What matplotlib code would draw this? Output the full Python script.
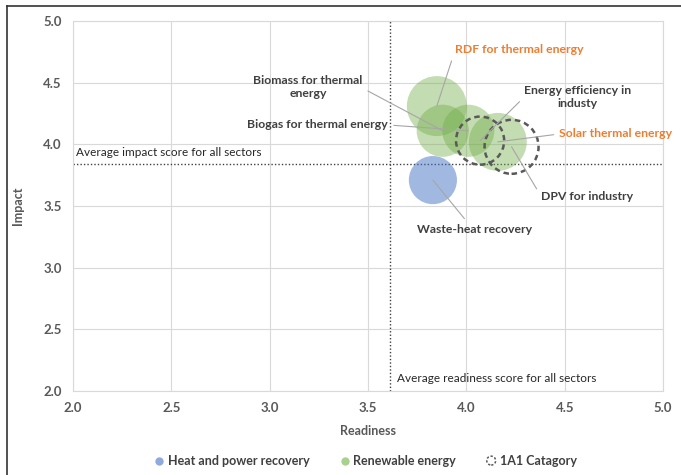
import matplotlib
matplotlib.use("Agg")
import matplotlib.pyplot as plt
from matplotlib.lines import Line2D
from matplotlib.patches import Circle
from matplotlib.legend_handler import HandlerPatch

plt.rcParams['font.family'] = ['Lato', 'DejaVu Sans']

# Bubble data: readiness (x), impact (y), bubble size, group
names = ["RDF for thermal energy", "Biomass for thermal\nenergy", "Biogas for thermal energy",
         "Solar thermal energy", "Energy efficiency in\nindusty", "DPV for industry",
         "Waste-heat recovery"]
readiness = [3.85, 3.88, 4.01, 4.16, 4.07, 4.23, 3.83]
impact = [4.31, 4.11, 4.11, 4.02, 4.03, 3.98, 3.71]
bubble_size = [9.0, 6.8, 6.8, 8.4, 5.8, 7.3, 5.8]
group = ["re", "re", "re", "re", "1a1", "1a1", "hp"]

avg_readiness = 3.61
avg_impact = 3.84

x_ticks = [2.0, 2.5, 3.0, 3.5, 4.0, 4.5, 5.0]
y_ticks = [2.0, 2.5, 3.0, 3.5, 4.0, 4.5, 5.0]

# label positions (data coords), text colour, leader anchor on the text box
label_pos = [(4.27, 4.765), (3.195, 4.465), (3.245, 4.157), (4.76, 4.084),
             (4.567, 4.384), (4.613, 3.573), (4.04, 3.313)]
label_color = ["#ED7D31", "#404040", "#404040", "#ED7D31", "#404040", "#404040", "#404040"]
label_rel = [(0, 0.5), (1, 0.45), (1, 0.5), (0, 0.5), (0, 0.5), (0, 0.6), (0.45, 1)]

GREEN = "#70AD47"
BLUE = "#4472C4"
TXT = "#595959"

fig = plt.figure(figsize=(6.81, 4.75), dpi=100)
ax = fig.add_axes([73/681, 84/475, 590/681, 370/475])

ax.set_xlim(2.0, 5.0)
ax.set_ylim(2.0, 5.0)
ax.set_xticks(x_ticks)
ax.set_yticks(y_ticks)
ax.set_xticklabels([f"{v:.1f}" for v in x_ticks])
ax.set_yticklabels([f"{v:.1f}" for v in y_ticks])
ax.grid(True, color="#D9D9D9", lw=0.8)
ax.set_axisbelow(True)
for s in ax.spines.values():
    s.set_color("#D9D9D9")
    s.set_linewidth(0.8)
ax.tick_params(length=0, labelsize=9.5, colors=TXT, pad=8)
for lbl in ax.get_xticklabels() + ax.get_yticklabels():
    lbl.set_fontweight("bold")
ax.set_xlabel("Readiness", fontsize=9, color=TXT, labelpad=8, fontweight="bold")
ax.set_ylabel("Impact", fontsize=9, color=TXT, labelpad=14, fontweight="bold")

scale = 207.0
for x, y, sz, g in zip(readiness, impact, bubble_size, group):
    s = sz * scale
    if g == "re":
        ax.scatter(x, y, s=s, color=GREEN, alpha=0.42, edgecolors="none", zorder=3)
    elif g == "hp":
        ax.scatter(x, y, s=s, color=BLUE, alpha=0.5, edgecolors="none", zorder=3)
    else:
        ax.scatter(x, y, s=s, facecolors="none", edgecolors="#595959",
                   linewidths=1.8, linestyle=(0, (2.2, 1.6)), zorder=4)

# Average score reference lines
ax.axvline(avg_readiness, color="#404040", lw=1, ls=(0, (1, 1.5)), zorder=2)
ax.axhline(avg_impact, color="#404040", lw=1, ls=(0, (1, 1.5)), zorder=2)
ax.text(2.015, avg_impact + 0.05, "Average impact score for all sectors",
        fontsize=8.5, color="#262626", va="bottom", ha="left")
ax.text(avg_readiness + 0.04, 2.105, "Average readiness score for all sectors",
        fontsize=8.5, color="#262626", va="center", ha="left")

for n, x, y, p, c, rp in zip(names, readiness, impact, label_pos, label_color, label_rel):
    ax.annotate(n, xy=(x, y), xytext=p, ha="center", va="center", fontsize=8.8,
                fontweight="bold", color=c, linespacing=1.3, zorder=6,
                arrowprops=dict(arrowstyle="-", color="#A6A6A6", lw=0.8,
                                relpos=rp, shrinkA=2, shrinkB=0))


class DashedCircleHandler(HandlerPatch):
    def create_artists(self, legend, orig_handle, xdescent, ydescent, width, height,
                       fontsize, trans):
        c = Circle((width / 2 - xdescent, height / 2 - ydescent), radius=3.2,
                   facecolor="none", edgecolor="#595959", lw=1.1, linestyle=(0, (1.5, 1.2)))
        c.set_transform(trans)
        return [c]


# Legend
dashed = Circle((0, 0), 1)
handles = [
    Line2D([], [], marker="o", ls="none", markersize=6, markerfacecolor="#8FAADC",
           markeredgecolor="none"),
    Line2D([], [], marker="o", ls="none", markersize=6, markerfacecolor="#A9D18E",
           markeredgecolor="none"),
    dashed,
]
leg = fig.legend(handles, ["Heat and power recovery", "Renewable energy", "1A1 Catagory"],
                 loc="center", bbox_to_anchor=(0.535, 1 - 461/475), ncol=3, frameon=False,
                 fontsize=9, handletextpad=0.1, columnspacing=2.2, handlelength=1.2,
                 handler_map={dashed: DashedCircleHandler()})
for t in leg.get_texts():
    t.set_color("#404040")
    t.set_fontweight("bold")

# Outer frame (left and top edges)
fig.add_artist(Line2D([7/681, 7/681], [0, 1 - 6/475], transform=fig.transFigure,
                      color="#333333", lw=1.2))
fig.add_artist(Line2D([7/681, 1], [1 - 6/475, 1 - 6/475], transform=fig.transFigure,
                      color="#333333", lw=1.2))

fig.savefig("out.png", dpi=100)
